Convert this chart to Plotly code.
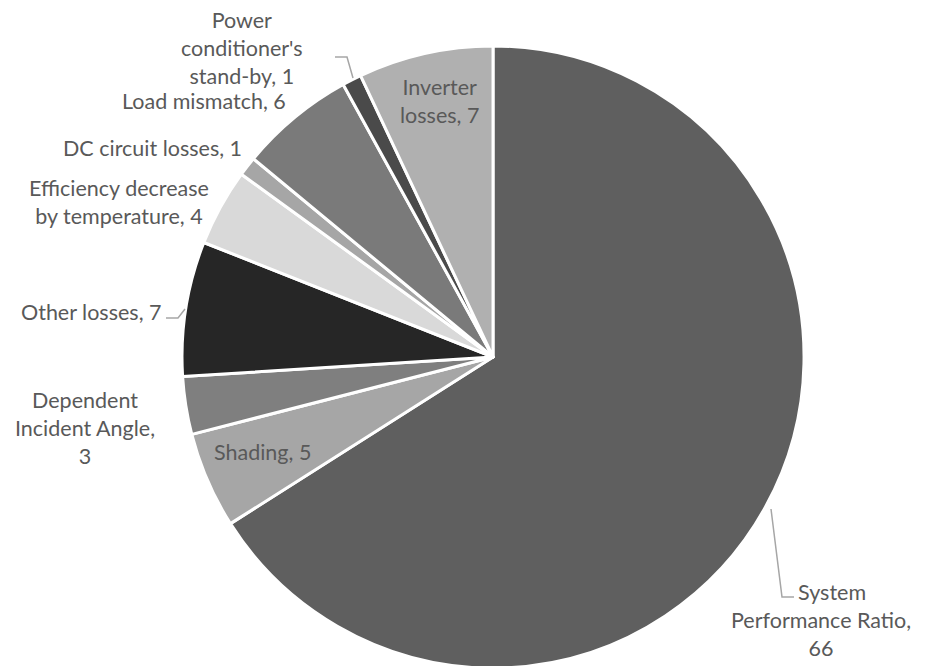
import plotly.graph_objects as go

# ---- data ----
categories = ["System Performance Ratio", "Shading", "Dependent Incident Angle",
              "Other losses", "Efficiency decrease by temperature", "DC circuit losses",
              "Load mismatch", "Power conditioner's stand-by", "Inverter losses"]
values = [66, 5, 3, 7, 4, 1, 6, 1, 7]
label_lines = ["&nbsp;&nbsp;&nbsp;&nbsp;System<br>Performance Ratio,", "Shading,", "Dependent<br>Incident Angle,",
               "Other losses,", "Efficiency decrease<br>by temperature,", "DC circuit losses,",
               "Load mismatch,", "Power<br>conditioner's<br>stand-by,", "Inverter<br>losses,"]
value_sep = ["<br>", " ", "<br>", " ", " ", " ", " ", " ", " "]

# ---- style ----
colors = ["#5f5f5f", "#a6a6a6", "#7f7f7f", "#262626", "#d9d9d9", "#a6a6a6",
          "#7a7a7a", "#4a4a4a", "#b0b0b0"]
W, H = 928, 666
OFF = 8  # page body margin
# label centre positions in screen pixels (layout only)
label_pos = [(821, 620), (262, 452), (85, 428), (91, 312), (119, 202),
             (152, 148), (204, 101), (242, 48), (439, 101)]
leaders = [
    [(771, 509), (782, 597), (794, 597)],
    [(335, 57), (347, 57), (353, 78)],
    [(166, 318), (178, 318), (185, 309)],
]

def paper(X, Y):
    return (X - OFF) / W, 1 - (Y - OFF) / H

fig = go.Figure(go.Pie(
    labels=categories, values=values, textinfo="none",
    sort=False, direction="clockwise", rotation=0,
    marker=dict(colors=colors, line=dict(color="white", width=3)),
    domain=dict(x=[0.1875, 0.8578], y=[0.009, 0.943]),
    automargin=False, showlegend=False, hoverinfo="label+value",
))

font = dict(family="Lato", size=21.5, color="#595959")
for lab, sep, v, (X, Y) in zip(label_lines, value_sep, values, label_pos):
    x, y = paper(X, Y)
    fig.add_annotation(x=x, y=y, xref="paper", yref="paper", text=f"{lab}{sep}{v}",
                       showarrow=False, xanchor="center", yanchor="middle",
                       align="center", font=font)

for pts in leaders:
    path = ""
    for i, (X, Y) in enumerate(pts):
        x, y = paper(X, Y)
        path += ("M" if i == 0 else "L") + f"{x},{y} "
    fig.add_shape(type="path", path=path.strip(), xref="paper", yref="paper",
                  line=dict(color="#a6a6a6", width=1.5))

fig.update_layout(width=W, height=H, margin=dict(l=0, r=0, t=0, b=0),
                  paper_bgcolor="white", plot_bgcolor="white")
fig.write_html("out.html")
